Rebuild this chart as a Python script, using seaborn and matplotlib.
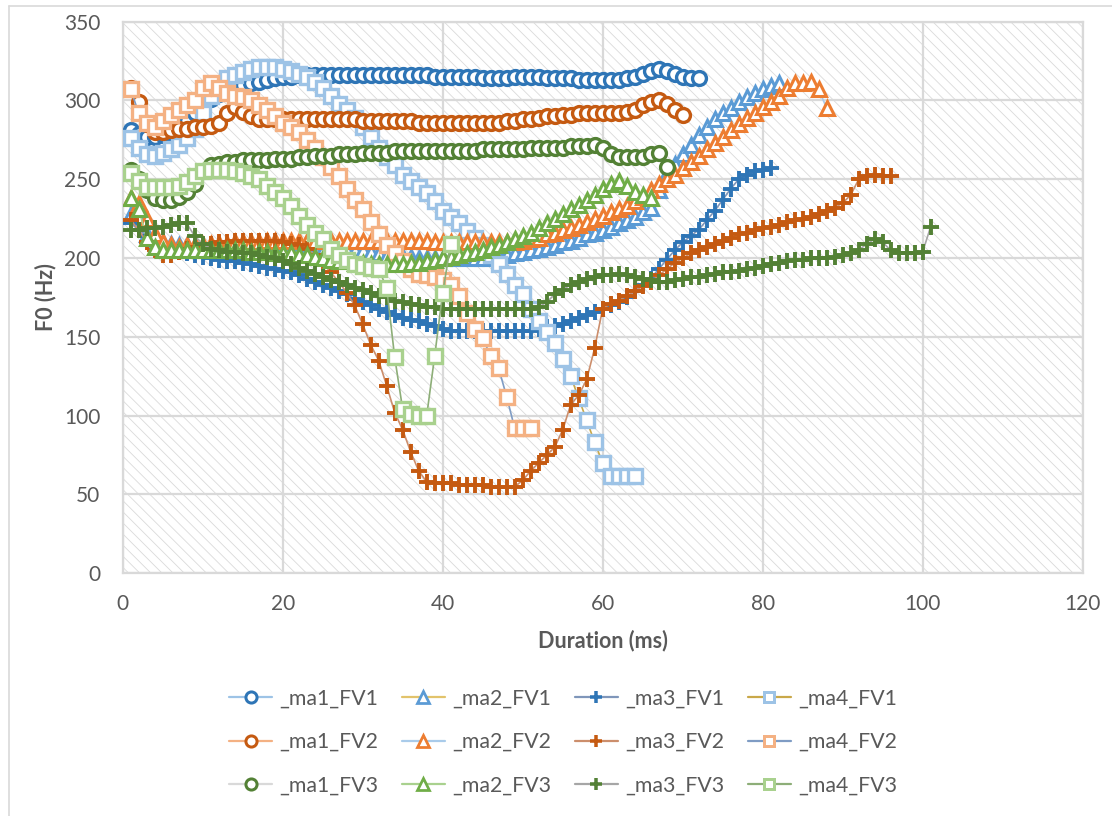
"""
F0 contours per speaker / vowel, Excel-style line chart redone with seaborn
"""

import pandas as pd
import matplotlib
matplotlib.use("Agg")
import matplotlib.pyplot as plt
from matplotlib.lines import Line2D
from matplotlib.patches import Rectangle
import seaborn as sns

# F0 (Hz) per ms, every series starts at 1 ms
ma1_fv1 = [281, 279, 277, 277, 278, 280, 283, 287, 292, 297, 301, 304, 306, 308, 310, 311, 312, 313, 314, 315,
           315, 316, 316, 316, 316, 316, 316, 316, 316, 316, 316, 316, 316, 316, 316, 316, 316, 316, 315, 315,
           315, 315, 315, 315, 314, 314, 314, 314, 315, 315, 315, 315, 314, 314, 314, 314, 313, 313, 313, 313,
           313, 313, 314, 315, 317, 319, 320, 319, 317, 315, 314, 314]
ma2_fv1 = [228, 226, 215, 212, 210, 209, 208, 208, 207, 207, 207, 207, 207, 207, 207, 207, 207, 207, 207, 206,
           206, 206, 205, 205, 205, 205, 205, 205, 205, 205, 204, 203, 202, 202, 201, 201, 200, 200, 200, 200,
           200, 200, 200, 200, 200, 200, 201, 202, 203, 204, 205, 206, 207, 208, 210, 211, 213, 215, 216, 218,
           220, 222, 224, 226, 229, 232, 243, 254, 260, 266, 272, 278, 283, 288, 292, 295, 299, 302, 305, 307,
           309, 311]
ma3_fv1 = [222, 218, 214, 210, 207, 205, 204, 203, 202, 201, 200, 199, 198, 198, 197, 196, 195, 194, 193, 192,
           191, 189, 187, 185, 183, 181, 179, 177, 174, 172, 170, 168, 166, 164, 162, 161, 160, 158, 157, 155,
           154, 154, 154, 154, 154, 154, 154, 154, 154, 154, 154, 155, 156, 157, 158, 160, 162, 164, 166, 168,
           170, 172, 175, 179, 183, 187, 193, 199, 205, 210, 214, 218, 224, 230, 237, 244, 250, 253, 255, 256,
           257]
ma4_fv1 = [276, 270, 266, 265, 267, 269, 272, 276, 282, 292, 303, 310, 314, 316, 318, 320, 321, 321, 321, 320,
           319, 317, 315, 312, 308, 303, 298, 294, 289, 283, 277, 270, 264, 259, 253, 249, 245, 241, 236, 230,
           226, 222, 217, 213, 208, 202, 196, 190, 183, 177, 168, 160, 153, 146, 136, 125, 111, 97, 83, 70,
           62, 62, 62, 62]

ma1_fv2 = [308, 299, 285, 280, 280, 281, 282, 282, 283, 283, 284, 286, 292, 296, 293, 290, 288, 288, 288, 288,
           288, 288, 288, 288, 288, 288, 288, 288, 288, 287, 287, 287, 287, 287, 287, 287, 286, 286, 286, 286,
           286, 286, 286, 286, 286, 286, 286, 287, 287, 288, 288, 289, 290, 290, 291, 291, 292, 292, 292, 292,
           292, 292, 293, 294, 297, 299, 300, 298, 294, 291]
ma2_fv2 = [238, 235, 225, 215, 210, 208, 207, 208, 208, 208, 209, 209, 209, 210, 210, 210, 210, 211, 211, 211,
           211, 211, 211, 211, 211, 211, 211, 211, 211, 211, 211, 211, 211, 211, 211, 211, 211, 211, 210, 210,
           210, 210, 210, 210, 210, 210, 210, 210, 210, 211, 212, 213, 215, 216, 218, 219, 221, 223, 225, 227,
           229, 231, 233, 236, 239, 243, 247, 250, 253, 257, 261, 265, 269, 273, 277, 281, 285, 289, 292, 296,
           299, 303, 308, 311, 311, 312, 307, 295]
ma3_fv2 = [224, 218, 210, 205, 202, 202, 204, 206, 207, 208, 209, 210, 210, 211, 211, 211, 211, 211, 211, 210,
           209, 208, 206, 202, 197, 191, 185, 178, 170, 158, 145, 135, 119, 102, 91, 77, 65, 58, 57, 57,
           57, 56, 56, 56, 56, 55, 55, 55, 55, 59, 65, 70, 75, 80, 91, 107, 113, 123, 143, 168,
           171, 173, 176, 179, 182, 185, 189, 193, 197, 200, 203, 205, 207, 209, 211, 213, 215, 216, 218, 219,
           220, 221, 223, 224, 225, 226, 228, 230, 232, 235, 240, 250, 252, 253, 252, 252]
ma4_fv2 = [307, 292, 286, 283, 287, 291, 294, 297, 300, 308, 311, 308, 305, 303, 302, 300, 297, 294, 290, 286,
           283, 280, 275, 270, 264, 258, 252, 244, 237, 231, 223, 215, 208, 203, 198, 193, 190, 189, 188, 186,
           183, 176, 165, 155, 149, 138, 130, 112, 92, 92, 92]

ma1_fv3 = [256, 250, 243, 238, 237, 237, 239, 242, 247, 255, 259, 260, 261, 261, 262, 262, 262, 262, 263, 263,
           263, 264, 264, 265, 265, 265, 266, 266, 266, 267, 267, 267, 267, 268, 268, 268, 268, 268, 268, 268,
           268, 268, 268, 268, 269, 269, 269, 269, 269, 269, 270, 270, 270, 270, 270, 271, 271, 271, 272, 270,
           266, 264, 264, 264, 264, 266, 267, 258]
ma2_fv3 = [238, 231, 213, 207, 205, 205, 205, 205, 205, 205, 205, 205, 205, 205, 205, 204, 204, 204, 203, 203,
           203, 202, 202, 201, 200, 199, 198, 198, 197, 197, 196, 196, 196, 196, 196, 197, 197, 198, 199, 200,
           201, 202, 203, 204, 205, 207, 208, 210, 212, 214, 216, 219, 222, 225, 228, 231, 234, 237, 240, 244,
           247, 249, 246, 242, 240, 238]
ma3_fv3 = [218, 218, 219, 219, 220, 221, 222, 222, 214, 209, 206, 205, 204, 204, 203, 203, 202, 201, 200, 198,
           196, 194, 192, 190, 188, 186, 185, 183, 181, 180, 178, 176, 175, 173, 172, 171, 170, 169, 169, 168,
           168, 168, 168, 168, 168, 168, 168, 168, 168, 168, 168, 169, 172, 177, 180, 183, 185, 187, 188, 189,
           189, 190, 189, 188, 187, 186, 185, 185, 186, 187, 188, 188, 189, 190, 191, 191, 192, 193, 194, 195,
           196, 197, 198, 199, 199, 200, 200, 200, 201, 202, 203, 205, 209, 212, 210, 205, 203, 203, 203, 204,
           220]
ma4_fv3 = [254, 249, 245, 245, 245, 245, 246, 248, 252, 255, 256, 256, 256, 255, 254, 252, 250, 246, 242, 238,
           233, 227, 221, 216, 212, 206, 202, 199, 196, 195, 194, 193, 181, 137, 104, 101, 100, 100, 138, 178,
           209]

series = {
    "_ma1_FV1": ma1_fv1, "_ma2_FV1": ma2_fv1, "_ma3_FV1": ma3_fv1, "_ma4_FV1": ma4_fv1,
    "_ma1_FV2": ma1_fv2, "_ma2_FV2": ma2_fv2, "_ma3_FV2": ma3_fv2, "_ma4_FV2": ma4_fv2,
    "_ma1_FV3": ma1_fv3, "_ma2_FV3": ma2_fv3, "_ma3_FV3": ma3_fv3, "_ma4_FV3": ma4_fv3,
}

# marker outline colours (Excel office theme shades)
marker_colors = {
    "_ma1_FV1": "#2E75B6", "_ma2_FV1": "#5B9BD5", "_ma3_FV1": "#2E75B6", "_ma4_FV1": "#9DC3E6",
    "_ma1_FV2": "#C55A11", "_ma2_FV2": "#ED7D31", "_ma3_FV2": "#C55A11", "_ma4_FV2": "#F4B183",
    "_ma1_FV3": "#538135", "_ma2_FV3": "#70AD47", "_ma3_FV3": "#538135", "_ma4_FV3": "#A9D18E",
}
# the thin connecting lines use other colours
line_colors = {
    "_ma1_FV1": "#9DC3E6", "_ma2_FV1": "#E2C36B", "_ma3_FV1": "#7F96BA", "_ma4_FV1": "#C9A849",
    "_ma1_FV2": "#F4B183", "_ma2_FV2": "#A9CBEA", "_ma3_FV2": "#CC8E6C", "_ma4_FV2": "#7F9CC4",
    "_ma1_FV3": "#D9D9D9", "_ma2_FV3": "#A9D18E", "_ma3_FV3": "#A6A6A6", "_ma4_FV3": "#8DAE78",
}
marker_style = {"ma1": ("o", 10, 2.4), "ma2": ("^", 10, 2.2), "ma3": ("+", 11, 2.8), "ma4": ("s", 9.5, 2.4)}

rows = []
for name, vals in series.items():
    for i, v in enumerate(vals):
        rows.append({"series": name, "Duration": i + 1, "F0": v})
df = pd.DataFrame(rows)

sns.set_theme(style="white")
plt.rcParams["font.family"] = ["Lato", "DejaVu Sans"]
plt.rcParams["hatch.linewidth"] = 0.6

W, H = 1112, 816
fig = plt.figure(figsize=(W / 100, H / 100), dpi=100)
ax = fig.add_axes([122.7 / W, 1 - 573.3 / H, 960 / W, 551.6 / H])

# hatched plot area
ax.add_patch(Rectangle((0, 0), 1, 1, transform=ax.transAxes, facecolor="white",
                       edgecolor="#DADADA", hatch="\\\\\\", linewidth=0, zorder=0))

for i, (name, vals) in enumerate(series.items()):
    sub = df[df["series"] == name]
    mk, ms, mew = marker_style[name[1:4]]
    sns.lineplot(data=sub, x="Duration", y="F0", ax=ax, estimator=None, sort=False,
                 color=line_colors[name], lw=1.2, marker=mk, ms=ms, mew=mew,
                 mec=marker_colors[name], mfc="white", legend=False, zorder=3 + i)

ax.set_xlim(0, 120)
ax.set_ylim(0, 350)
ax.set_xticks(range(0, 121, 20))
ax.set_yticks(range(0, 351, 50))
ax.grid(True, color="#D9D9D9", lw=1.6, zorder=1)
ax.set_axisbelow(True)
for sp in ax.spines.values():
    sp.set_color("#D9D9D9")
    sp.set_linewidth(1.6)
ax.tick_params(length=0, labelsize=15, colors="#595959")
ax.tick_params(axis="y", pad=16)
ax.tick_params(axis="x", pad=15)
ax.set_xlabel("Duration (ms)", fontsize=15.5, fontweight="bold", color="#595959")
ax.set_ylabel("F0 (Hz)", fontsize=15.5, fontweight="bold", color="#595959")
ax.xaxis.set_label_coords(0.5, -(630 - 573.3) / 551.6)
ax.yaxis.set_label_coords((56 - 122.7) / 960, 0.5)

# legend: 3 rows (FV1, FV2, FV3) x 4 columns (ma1..ma4)
handles, labels = [], []
for ma in ["ma1", "ma2", "ma3", "ma4"]:
    for fv in ["FV1", "FV2", "FV3"]:
        name = f"_{ma}_{fv}"
        mk, ms, mew = marker_style[ma]
        handles.append(Line2D([], [], color=line_colors[name], lw=1.6, marker=mk,
                              ms=ms * 0.8, mew=mew * 0.9, mec=marker_colors[name], mfc="white"))
        labels.append(name)
fig.legend(handles, labels, ncol=4, loc="center", bbox_to_anchor=(563 / W, 1 - 742 / H),
           frameon=False, fontsize=15.3, labelcolor="#595959", handlelength=2.05,
           handletextpad=0.33, columnspacing=1.1, labelspacing=1.1)

# chart area border (left and top edges visible)
fig.add_artist(Line2D([9 / W, 9 / W], [0, 1 - 6 / H], transform=fig.transFigure,
                      color="#D9D9D9", lw=1.2))
fig.add_artist(Line2D([9 / W, 1], [1 - 6 / H, 1 - 6 / H], transform=fig.transFigure,
                      color="#D9D9D9", lw=1.2))

fig.savefig("out.png", dpi=100)
